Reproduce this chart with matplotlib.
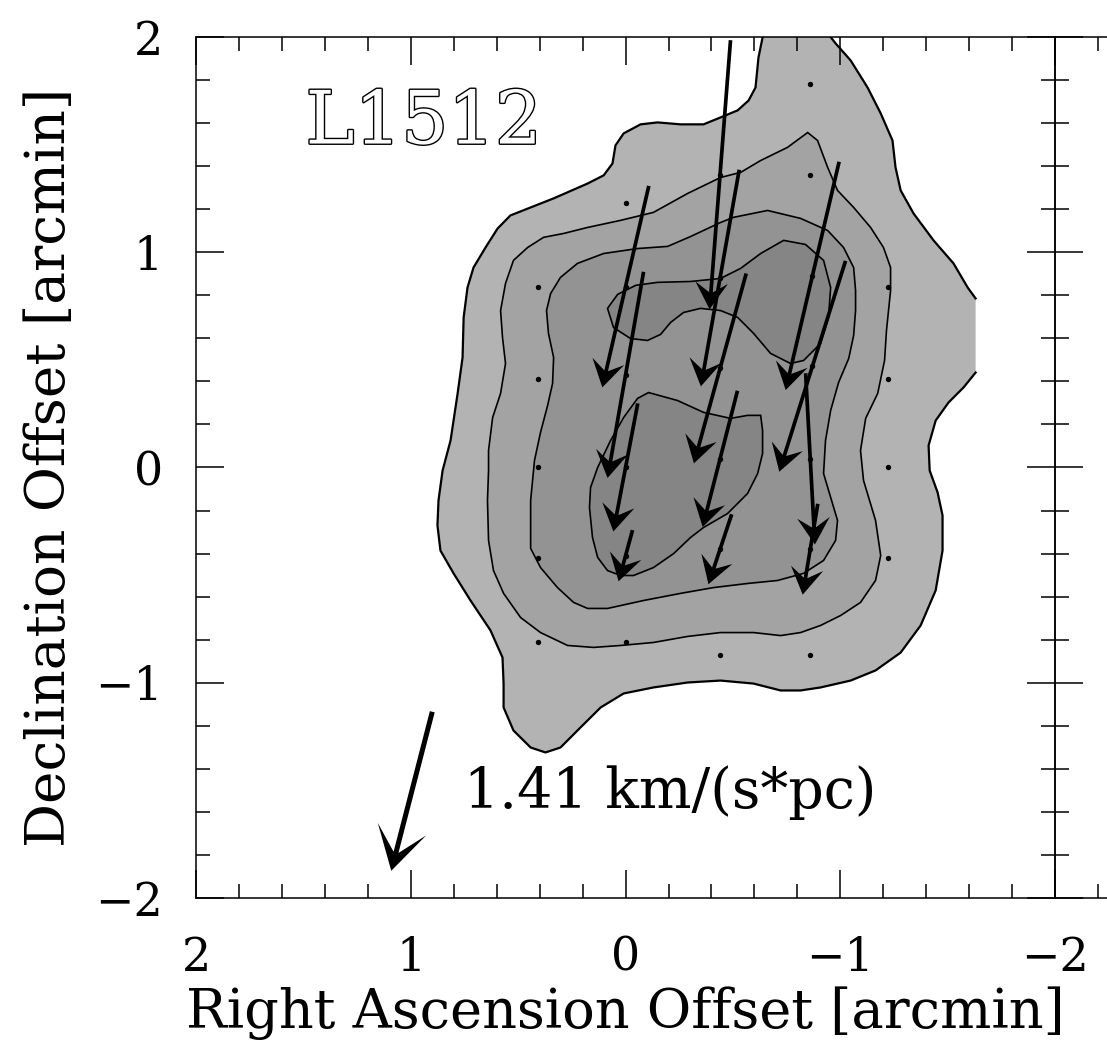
import numpy as np
import matplotlib.pyplot as plt
from matplotlib import patheffects
from matplotlib.ticker import MultipleLocator

plt.rcParams["font.family"] = "DejaVu Serif"

# velocity gradients fitted at the observed positions (offsets in arcmin, km/s/pc)
grad_ra = [-0.44, 0.0, 0.0, 0.0, 0.0, -0.44, -0.44, -0.44, -0.44, -0.87, -0.87, -0.86, -0.86]
grad_dec = [1.36, 0.84, 0.43, 0.0, -0.41, 0.88, 0.46, 0.04, -0.38, 0.89, 0.47, -0.38, 0.04]
grad_x = [0.18, 0.40, 0.31, 0.21, 0.12, 0.33, 0.45, 0.30, 0.20, 0.46, 0.57, 0.13, -0.08]
grad_y = [-2.31, -1.73, -1.77, -1.10, -0.44, -1.86, -1.63, -1.17, -0.60, -1.96, -1.81, -0.78, -1.47]

# remaining observed positions (no gradient fit)
obs_ra = [0.0, -0.86, -0.86, 0.41, 0.41, 0.41, 0.41, 0.41, -1.22, -1.22, -1.22, -1.22, 0.0, -0.44, -0.86]
obs_dec = [1.23, 1.78, 1.36, 0.84, 0.41, 0.0, -0.42, -0.81, 0.84, 0.41, 0.0, -0.42, -0.81, -0.87, -0.87]

# reference arrow
KEY_VALUE = 1.41       # km/(s*pc)
KEY_ANGLE = -75.5      # deg
KEY_RA, KEY_DEC = 0.90, -1.135
UNITS_PER_ARCMIN = 1.848

# integrated intensity contours (arcmin offsets), lowest level first
lev1_ra = [-1.630, -1.593, -1.527, -1.434, -1.341, -1.281, -1.257, -1.243, -1.188, -1.127,
           -1.048, -0.978, -0.931, -0.899, -0.638, -0.638, -0.619, -0.605, -0.573, -0.522,
           -0.442, -0.363, -0.256, -0.149, -0.070, 0.009, 0.047, 0.061, 0.102, 0.177,
           0.335, 0.442, 0.536, 0.596, 0.652, 0.708, 0.736, 0.754, 0.759, 0.782,
           0.815, 0.852, 0.871, 0.876, 0.862, 0.801, 0.722, 0.629, 0.573, 0.568,
           0.568, 0.522, 0.442, 0.373, 0.303, 0.210, 0.116, 0.009, -0.130, -0.289,
           -0.442, -0.596, -0.722, -0.815, -0.908, -1.048, -1.164, -1.281, -1.374, -1.444,
           -1.476, -1.476, -1.453, -1.416, -1.411, -1.444, -1.504, -1.574, -1.630]
lev1_dec = [0.785, 0.836, 0.948, 1.055, 1.180, 1.287, 1.394, 1.519, 1.645, 1.765,
            1.891, 1.970, 2.030, 2.100, 2.100, 1.998, 1.905, 1.765, 1.705, 1.659,
            1.626, 1.594, 1.594, 1.603, 1.594, 1.552, 1.496, 1.412, 1.357, 1.319,
            1.250, 1.208, 1.171, 1.110, 1.022, 0.929, 0.836, 0.697, 0.511, 0.344,
            0.125, -0.014, -0.153, -0.269, -0.386, -0.492, -0.618, -0.757, -0.883, -1.004,
            -1.115, -1.222, -1.301, -1.324, -1.301, -1.208, -1.115, -1.050, -1.022, -0.999,
            -0.990, -1.004, -1.036, -1.036, -1.022, -0.990, -0.943, -0.860, -0.734, -0.571,
            -0.386, -0.223, -0.116, -0.014, 0.102, 0.218, 0.302, 0.372, 0.441]

lev2_ra = [-0.848, -0.894, -0.941, -0.987, -1.062, -1.141, -1.201, -1.234, -1.234, -1.215,
           -1.206, -1.174, -1.118, -1.094, -1.108, -1.164, -1.188, -1.164, -1.094, -1.001,
           -0.908, -0.815, -0.722, -0.596, -0.442, -0.289, -0.130, 0.023, 0.149, 0.270,
           0.396, 0.489, 0.568, 0.615, 0.638, 0.643, 0.638, 0.638, 0.619, 0.582,
           0.559, 0.573, 0.582, 0.559, 0.522, 0.456, 0.382, 0.289, 0.177, 0.023,
           -0.130, -0.289, -0.442, -0.536, -0.629, -0.754]
lev2_dec = [1.556, 1.519, 1.394, 1.287, 1.208, 1.115, 1.022, 0.929, 0.822, 0.637,
            0.497, 0.344, 0.228, 0.079, -0.060, -0.246, -0.409, -0.525, -0.627, -0.688,
            -0.734, -0.767, -0.781, -0.767, -0.767, -0.785, -0.813, -0.827, -0.836, -0.827,
            -0.767, -0.697, -0.585, -0.479, -0.339, -0.153, -0.014, 0.079, 0.232, 0.344,
            0.483, 0.604, 0.729, 0.855, 0.962, 1.022, 1.069, 1.087, 1.115, 1.148,
            1.185, 1.273, 1.347, 1.371, 1.426, 1.487]

lev3_ra = [-0.661, -0.815, -0.941, -1.015, -1.062, -1.071, -1.071, -1.062, -1.039, -0.992,
           -0.955, -0.931, -0.922, -0.955, -0.987, -0.978, -0.922, -0.829, -0.708, -0.568,
           -0.410, -0.256, -0.084, 0.084, 0.177, 0.242, 0.317, 0.396, 0.442, 0.442,
           0.424, 0.396, 0.363, 0.340, 0.335, 0.359, 0.368, 0.349, 0.303, 0.224,
           0.102, -0.056, -0.196, -0.303, -0.442, -0.503]
lev3_dec = [1.194, 1.157, 1.101, 1.022, 0.929, 0.822, 0.729, 0.613, 0.506, 0.395,
            0.265, 0.125, -0.028, -0.139, -0.246, -0.339, -0.432, -0.492, -0.525, -0.539,
            -0.558, -0.585, -0.618, -0.655, -0.655, -0.627, -0.558, -0.465, -0.376, -0.153,
            0.033, 0.163, 0.288, 0.390, 0.511, 0.623, 0.729, 0.808, 0.883, 0.948,
            0.994, 1.017, 1.027, 1.073, 1.138, 1.162]

# highest level: northern and southern peaks
lev4n_ra = [0.084, 0.037, -0.047, -0.149, -0.303, -0.442, -0.536, -0.629, -0.736, -0.838,
            -0.922, -0.955, -0.945, -0.908, -0.829, -0.768, -0.675, -0.596, -0.522, -0.442,
            -0.349, -0.270, -0.210, -0.163, -0.102, -0.023, 0.056]
lev4n_dec = [0.739, 0.804, 0.846, 0.860, 0.864, 0.878, 0.925, 0.994, 1.055, 1.036,
             0.962, 0.836, 0.697, 0.576, 0.497, 0.483, 0.530, 0.623, 0.697, 0.729,
             0.739, 0.720, 0.674, 0.618, 0.590, 0.599, 0.650]
lev4s_ra = [-0.107, -0.242, -0.363, -0.489, -0.568, -0.629, -0.638, -0.638, -0.615, -0.568,
            -0.475, -0.363, -0.303, -0.224, -0.130, -0.037, 0.023, 0.084, 0.130, 0.154,
            0.168, 0.163, 0.130, 0.070, 0.009, -0.056]
lev4s_dec = [0.348, 0.311, 0.256, 0.228, 0.242, 0.242, 0.172, 0.065, -0.028, -0.121,
             -0.214, -0.279, -0.325, -0.400, -0.465, -0.502, -0.502, -0.479, -0.418, -0.325,
             -0.186, -0.093, 0.000, 0.125, 0.232, 0.321]

greys = ["#b3b3b3", "#a3a3a3", "#939393", "#858585"]

fig = plt.figure(figsize=(11.07, 10.41), dpi=100)
ax = fig.add_axes([0.1771, 0.1374, 0.7760, 0.8271])

# lowest level is cut by the map edge on the west side: fill closes it, outline stays open
ax.fill(lev1_ra, lev1_dec, color=greys[0], lw=0, zorder=1)
ax.plot(lev1_ra, lev1_dec, color="k", lw=1.6, zorder=2)
ax.fill(lev2_ra, lev2_dec, facecolor=greys[1], edgecolor="k", lw=1.2, zorder=2)
ax.fill(lev3_ra, lev3_dec, facecolor=greys[2], edgecolor="k", lw=1.2, zorder=3)
ax.fill(lev4n_ra, lev4n_dec, facecolor=greys[3], edgecolor="k", lw=1.2, zorder=4)
ax.fill(lev4s_ra, lev4s_dec, facecolor=greys[3], edgecolor="k", lw=1.2, zorder=4)

ax.scatter(grad_ra + obs_ra, grad_dec + obs_dec, s=15, c="k", linewidths=0, zorder=6)

ax.quiver(grad_ra, grad_dec, grad_x, grad_y, pivot="middle", angles="xy",
          scale_units="xy", scale=UNITS_PER_ARCMIN, units="dots", width=3.7,
          headwidth=8.8, headlength=7.2, headaxislength=4.6, color="k", zorder=7)

ku = KEY_VALUE * np.cos(np.radians(KEY_ANGLE))
kv = KEY_VALUE * np.sin(np.radians(KEY_ANGLE))
ax.quiver([KEY_RA], [KEY_DEC], [ku], [kv], pivot="tail", angles="xy",
          scale_units="xy", scale=UNITS_PER_ARCMIN, units="dots", width=5.0,
          headwidth=10, headlength=8.6, headaxislength=3.8, color="k", zorder=7)
ax.text(-0.21, -1.51, f"{KEY_VALUE:.2f} km/(s*pc)", fontsize=40,
        ha="center", va="center")

ax.text(0.94, 1.60, "L1512", fontsize=53, ha="center", va="center", color="white",
        path_effects=[patheffects.Stroke(linewidth=2.0, foreground="k"),
                      patheffects.Normal()])


def style_axes(a, labels=True):
    a.set_xlim(2, -2)
    a.set_ylim(-2, 2)
    for axis in (a.xaxis, a.yaxis):
        axis.set_major_locator(MultipleLocator(1))
        axis.set_minor_locator(MultipleLocator(0.2))
    a.tick_params(which="both", direction="in", top=True, right=True, width=1.1,
                  labelbottom=labels, labelleft=labels)
    a.tick_params(which="major", length=20, labelsize=33)
    a.tick_params(which="minor", length=10)
    a.tick_params(axis="x", pad=27)
    a.tick_params(axis="y", pad=24)
    for sp in a.spines.values():
        sp.set_linewidth(1.1)


style_axes(ax)
ax.set_xlabel("Right Ascension Offset [arcmin]", fontsize=39, va="center")
ax.set_ylabel("Declination Offset [arcmin]", fontsize=39.5, va="center")
ax.xaxis.set_label_coords(0.5, -0.1335)
ax.yaxis.set_label_coords(-0.170, 0.5)

# neighbouring panel sharing the east edge
ax2 = fig.add_axes([0.9530, 0.1374, 0.7760, 0.8271])
ax2.set_facecolor("none")
style_axes(ax2, labels=False)

fig.savefig("out.png", dpi=100)
